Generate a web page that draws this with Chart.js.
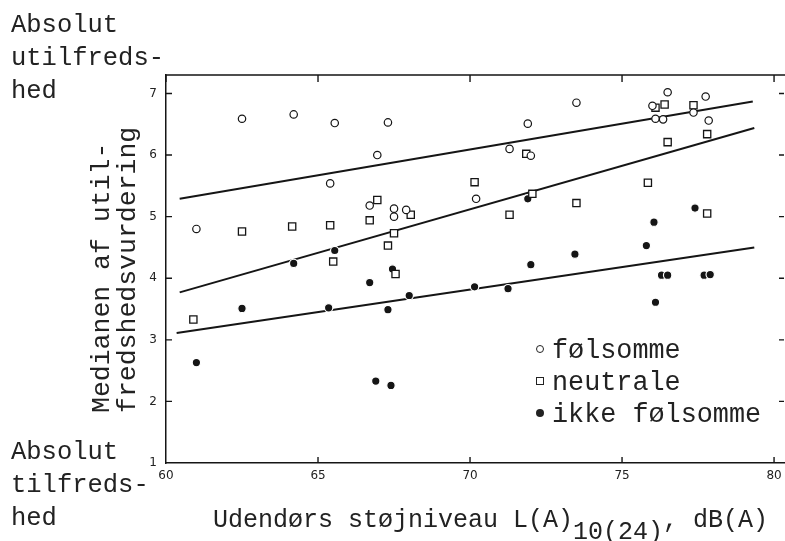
<!DOCTYPE html>
<html><head><meta charset="utf-8">
<script src="https://cdn.jsdelivr.net/npm/chart.js@4"></script>
<style>
html,body{margin:0;padding:0;background:#fff;}
#wrap{position:relative;width:785px;height:541px;overflow:hidden;background:#fff;}
canvas{position:absolute;left:0;top:0;}
.t{position:absolute;font-family:"Liberation Mono","DejaVu Sans Mono",monospace;font-size:25.5px;color:#222;line-height:33px;white-space:pre;}
.ytitle{position:absolute;left:89px;top:113px;height:300px;width:52px;writing-mode:vertical-rl;transform:rotate(180deg);font-family:"Liberation Mono","DejaVu Sans Mono",monospace;font-size:26.5px;line-height:26px;color:#222;white-space:pre;}
.leg{position:absolute;left:536px;top:335px;font-family:"Liberation Mono","DejaVu Sans Mono",monospace;font-size:26.8px;line-height:32px;color:#222;white-space:pre;}
.sym{display:inline-block;width:8px;height:8px;margin-right:8px;vertical-align:middle;position:relative;top:-2px;box-sizing:border-box;}
.sub{position:relative;top:12px;}
</style></head>
<body><div id="wrap"><canvas id="c" width="785" height="541"></canvas>
<div class="t" style="left:11px;top:9px">Absolut
utilfreds-
hed</div>
<div class="t" style="left:11px;top:436px">Absolut
tilfreds-
hed</div>
<div class="t" style="left:213px;top:504px;font-size:25px">Udendørs støjniveau L(A)<span class="sub">10(24)</span>, dB(A)</div>
<div class="ytitle">Medianen af util-
fredshedsvurdering</div>
<div class="leg"><span class="sym" style="border:1.3px solid #222;border-radius:50%"></span>følsomme
<span class="sym" style="border:1.3px solid #222"></span>neutrale
<span class="sym" style="background:#222;border-radius:50%"></span>ikke følsomme</div>
</div>
<script>
// Data
const xTicks = [60, 65, 70, 75, 80];
const yTicks = [1, 2, 3, 4, 5, 6, 7];

const folX = [61.0, 62.5, 64.2, 65.4, 65.55, 66.7, 66.95, 67.3, 67.5, 67.5, 67.9, 70.2, 71.3, 71.9, 72.0, 73.5, 76.0, 76.1, 76.35, 76.5, 77.35, 77.75, 77.85];
const folY = [4.80, 6.59, 6.66, 5.54, 6.52, 5.18, 6.00, 6.53, 5.13, 5.00, 5.11, 5.29, 6.10, 6.51, 5.99, 6.85, 6.80, 6.59, 6.58, 7.02, 6.69, 6.95, 6.56];

const neuX = [60.9, 62.5, 64.15, 65.4, 65.5, 66.7, 66.95, 67.3, 67.5, 67.55, 68.05, 70.15, 71.3, 71.85, 72.05, 73.5, 75.85, 76.1, 76.4, 76.5, 77.35, 77.8, 77.8];
const neuY = [3.33, 4.76, 4.84, 4.86, 4.27, 4.94, 5.27, 4.53, 4.73, 4.07, 5.03, 5.56, 5.03, 6.02, 5.37, 5.22, 5.55, 6.77, 6.82, 6.21, 6.81, 6.34, 5.05];

const ikkeX = [61.0, 62.5, 64.2, 65.35, 65.55, 66.7, 66.9, 67.3, 67.4, 67.45, 68.0, 70.15, 71.25, 71.9, 72.0, 73.45, 75.8, 76.05, 76.1, 76.3, 76.5, 77.4, 77.7, 77.9];
const ikkeY = [2.63, 3.51, 4.24, 3.52, 4.45, 3.93, 2.33, 3.49, 2.26, 4.15, 3.72, 3.86, 3.83, 5.29, 4.22, 4.39, 4.53, 4.91, 3.61, 4.05, 4.05, 5.14, 4.05, 4.06];

// Fitted lines (end points)
const folLineX = [60.45, 79.3];
const folLineY = [5.29, 6.87];
const neuLineX = [60.45, 79.35];
const neuLineY = [3.77, 6.44];
const ikkeLineX = [60.35, 79.35];
const ikkeLineY = [3.11, 4.50];

const pts = (xs, ys) => xs.map((x, i) => ({x, y: ys[i]}));
const INK = '#151515';

const frame = {
  id: 'frame',
  afterDatasetsDraw(chart) {
    const {ctx, chartArea: a, scales: {x, y}} = chart;
    ctx.save();
    ctx.strokeStyle = INK;
    ctx.lineWidth = 1.4;
    ctx.beginPath();
    ctx.moveTo(a.left, a.top); ctx.lineTo(a.right, a.top);
    xTicks.forEach(v => {
      const px = x.getPixelForValue(v);
      if (v !== 60) { ctx.moveTo(px, a.bottom); ctx.lineTo(px, a.bottom - 6); }
      ctx.moveTo(px, a.top); ctx.lineTo(px, a.top + 7);
    });
    yTicks.forEach(v => {
      const py = y.getPixelForValue(v);
      if (v !== 1) { ctx.moveTo(a.right - 6, py); ctx.lineTo(a.right - 1, py);
        ctx.moveTo(a.left, py); ctx.lineTo(a.left + 6, py); }
    });
    ctx.stroke();
    ctx.restore();
  }
};

new Chart(document.getElementById('c'), {
  type: 'scatter',
  data: {
    datasets: [
      {label: 'følsomme', data: pts(folX, folY), pointStyle: 'circle', pointRadius: 3.7,
       backgroundColor: '#fff', borderColor: INK, borderWidth: 1.2},
      {label: 'neutrale', data: pts(neuX, neuY), pointStyle: 'rect', pointRadius: 5.1,
       backgroundColor: '#fff', borderColor: INK, borderWidth: 1.3},
      {label: 'ikke følsomme', data: pts(ikkeX, ikkeY), pointStyle: 'circle', pointRadius: 4.2,
       backgroundColor: INK, borderColor: '#fff', borderWidth: 1.2},
      {type: 'line', data: pts(folLineX, folLineY), borderColor: INK, borderWidth: 2, pointRadius: 0, fill: false},
      {type: 'line', data: pts(neuLineX, neuLineY), borderColor: INK, borderWidth: 2, pointRadius: 0, fill: false},
      {type: 'line', data: pts(ikkeLineX, ikkeLineY), borderColor: INK, borderWidth: 2, pointRadius: 0, fill: false}
    ]
  },
  options: {
    animation: false,
    responsive: false,
    events: [],
    layout: {autoPadding: false, padding: {top: 75, right: 0, left: 0, bottom: 0}},
    plugins: {legend: {display: false}, tooltip: {enabled: false}},
    scales: {
      x: {
        type: 'linear', min: 60, max: 80.36,
        afterFit(s) { s.height = 78; s.paddingRight = 0; s.paddingLeft = 0; },
        afterBuildTicks(s) { s.ticks = xTicks.map(v => ({value: v})); },
        grid: {display: true, drawOnChartArea: false, drawTicks: false},
        border: {display: true, color: INK, width: 1.5},
        ticks: {padding: 6, color: '#222', font: {family: 'DejaVu Sans', size: 12}, maxRotation: 0}
      },
      y: {
        type: 'linear', min: 1, max: 7.3,
        afterFit(s) { s.width = 166; s.paddingTop = 0; s.paddingBottom = 0; },
        afterBuildTicks(s) { s.ticks = yTicks.map(v => ({value: v})); },
        grid: {display: true, drawOnChartArea: false, drawTicks: false},
        border: {display: true, color: INK, width: 1.5},
        ticks: {padding: 9, color: '#222', font: {family: 'DejaVu Sans', size: 12}}
      }
    }
  },
  plugins: [frame]
});
</script>
</body></html>
